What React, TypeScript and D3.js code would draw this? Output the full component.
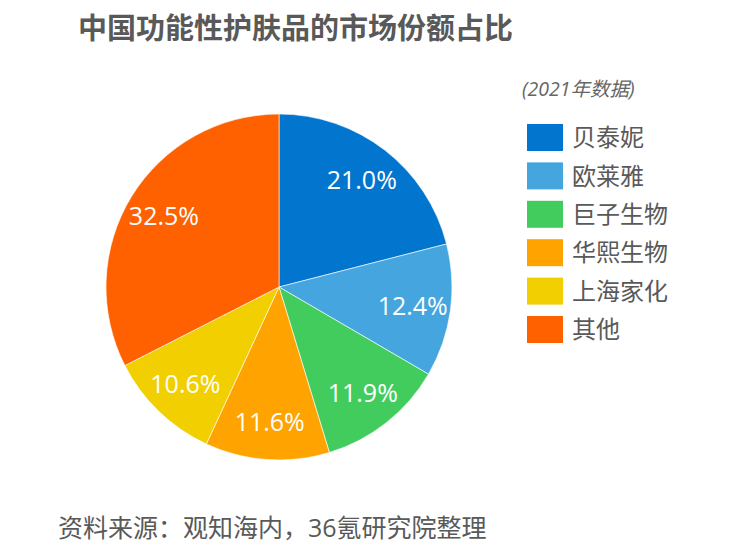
import React from 'react';
import * as d3 from 'd3';

const brands = ['贝泰妮', '欧莱雅', '巨子生物', '华熙生物', '上海家化', '其他'];
const shares = [21.0, 12.4, 11.9, 11.6, 10.6, 32.5];
const colors = ['#0275CF', '#45A5DF', '#43CC5E', '#FFA300', '#F2CF00', '#FF6100'];

const title = '中国功能性护肤品的市场份额占比';
const note = '(2021年数据)';
const source = '资料来源：观知海内，36氪研究院整理';

const W = 747;
const H = 559;
const FONT = '"Open Sans", "Noto Sans CJK SC", sans-serif';

const App: React.FC = () => {
  const cx = 279;
  const cy = 287;
  const r = 173;

  const pie = d3.pie<number>().sort(null).value(d => d);
  const arcs = pie(shares);
  const arc = d3.arc<d3.PieArcDatum<number>>().innerRadius(0).outerRadius(r);
  const labelArc = d3.arc<d3.PieArcDatum<number>>().innerRadius(135 * 2 - r).outerRadius(r);

  // legend layout
  const legendY = d3.scaleBand<string>().domain(brands).range([124, 124 + 38.4 * brands.length]);

  return (
    <svg width={W} height={H} style={{ position: 'absolute', left: 0, top: 0, background: '#fff' }}>
      <text x={78} y={39} fontFamily={FONT} fontSize={29} fontWeight="bold" fill="#595959">
        {title}
      </text>

      <g transform={`translate(${cx},${cy})`}>
        {arcs.map((a, i) => (
          <path key={i} d={arc(a) || ''} fill={colors[i]} stroke="#fff" strokeWidth={0.6} />
        ))}
        {arcs.map((a, i) => {
          const [lx, ly] = labelArc.centroid(a);
          return (
            <text key={i} x={lx} y={ly} dy="0.36em" textAnchor="middle" fontFamily={FONT} fontSize={25} fill="#fff">
              {shares[i].toFixed(1)}%
            </text>
          );
        })}
      </g>

      <text x={522} y={96} fontFamily={FONT} fontSize={19.5} fontStyle="italic" fill="#666">
        {note}
      </text>

      {brands.map((b, i) => {
        const y = legendY(b) || 0;
        return (
          <g key={b}>
            <rect x={527} y={y} width={36} height={27} fill={colors[i]} />
            <text x={572} y={y + 13.5} dy="0.36em" fontFamily={FONT} fontSize={24} fill="#595959">
              {b}
            </text>
          </g>
        );
      })}

      <text x={58} y={537} fontFamily={FONT} fontSize={25} fill="#595959">
        {source}
      </text>
    </svg>
  );
};

export default App;
